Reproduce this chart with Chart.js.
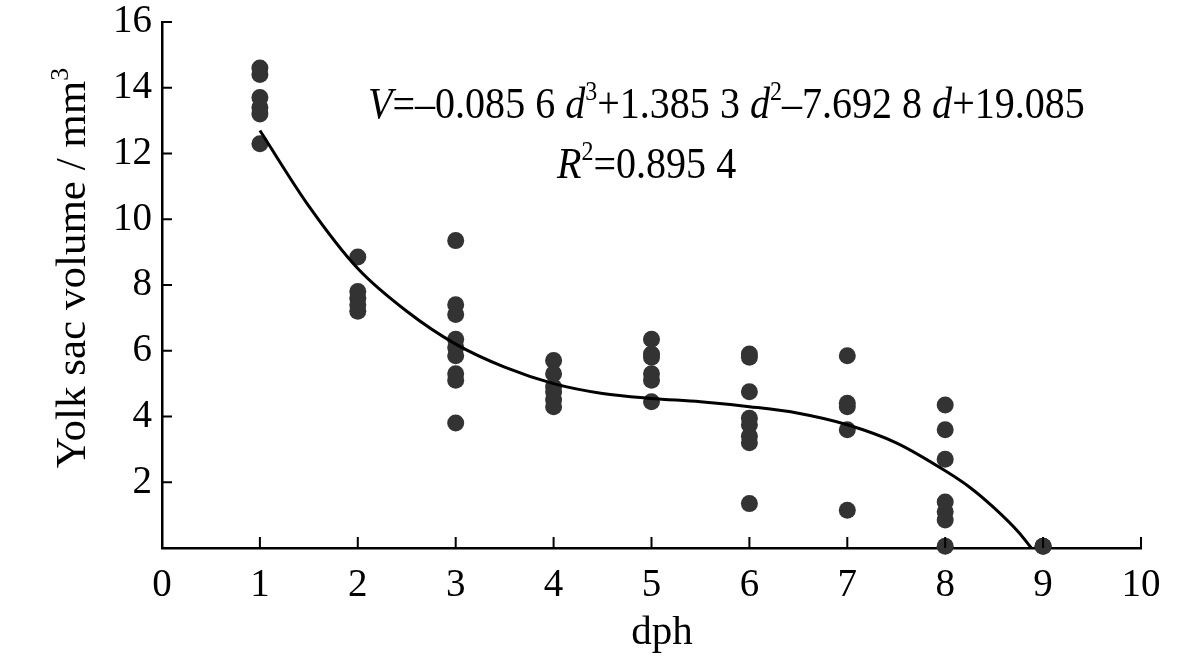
<!DOCTYPE html>
<html>
<head>
<meta charset="utf-8">
<title>Yolk sac volume</title>
<script src="https://cdn.jsdelivr.net/npm/chart.js@4.4.1/dist/chart.umd.min.js"></script>
<style>
  html, body { margin: 0; padding: 0; background: #fff; }
  #wrap { width: 1200px; height: 659px; }
</style>
</head>
<body>
<div id="wrap"><canvas id="yolk-chart" width="1200" height="659"></canvas></div>
<script>
const day1 = [14.6, 14.4, 13.7, 13.4, 13.2, 12.3];
const day2 = [8.85, 7.8, 7.6, 7.4, 7.2];
const day3 = [9.35, 7.4, 7.1, 6.35, 6.1, 5.85, 5.3, 5.1, 3.8];
const day4 = [5.7, 5.3, 4.9, 4.75, 4.5, 4.3];
const day5 = [6.35, 5.9, 5.8, 5.3, 5.1, 4.45];
const day6 = [5.9, 5.8, 4.75, 3.95, 3.75, 3.4, 3.2, 1.35];
const day7 = [5.85, 4.4, 4.3, 3.6, 1.15];
const day8 = [4.35, 3.6, 2.7, 1.4, 1.1, 0.85, 0.05];
const day9 = [0.05, 0.05];
const observations = [day1, day2, day3, day4, day5, day6, day7, day8, day9];

// fitted curve
const curveDays = [1, 1.5, 2, 2.5, 3, 3.5, 4, 4.5, 5, 5.5, 6, 6.5, 7, 7.5, 8, 8.25, 8.5, 8.75, 8.88];
const curveVolume = [12.7, 10.4, 8.5, 7.2, 6.2, 5.5, 5.0, 4.7, 4.55, 4.45, 4.3, 4.1, 3.75, 3.2, 2.35, 1.85, 1.22, 0.48, 0];

const xTicks = [0, 1, 2, 3, 4, 5, 6, 7, 8, 9, 10];
const yTicks = [2, 4, 6, 8, 10, 12, 14, 16];

const equationLine = [
  { t: "V", i: true }, { t: "=–0.085 6 " }, { t: "d", i: true }, { t: "3", s: true },
  { t: "+1.385 3 " }, { t: "d", i: true }, { t: "2", s: true },
  { t: "–7.692 8 " }, { t: "d", i: true }, { t: "+19.085" }
];
const r2Line = [{ t: "R", i: true }, { t: "2", s: true }, { t: "=0.895 4" }];
const yTitle = [{ t: "Yolk sac volume / mm" }, { t: "3", s: true }];

const FONT = "'Liberation Serif', 'Times New Roman', serif";

const points = [];
observations.forEach((vals, i) => {
  vals.forEach((v) => points.push({ x: i + 1, y: v }));
});
const curve = curveDays.map((d, i) => ({ x: d, y: curveVolume[i] }));

function fontOf(size, italic) {
  return (italic ? "italic " : "") + size + "px " + FONT;
}

function runsWidth(ctx, runs, size) {
  let w = 0;
  runs.forEach((r) => {
    ctx.font = fontOf(r.s ? size * 0.6 : size, r.i);
    w += ctx.measureText(r.t).width;
  });
  return w;
}

function drawRuns(ctx, runs, x, y, size) {
  let cx = x;
  runs.forEach((r) => {
    const sz = r.s ? size * 0.6 : size;
    ctx.font = fontOf(sz, r.i);
    ctx.fillText(r.t, cx, r.s ? y - size * 0.4 : y);
    cx += ctx.measureText(r.t).width;
  });
}

const decorations = {
  id: "decorations",
  afterDraw(chart) {
    const ctx = chart.ctx;
    const xs = chart.scales.x;
    const ys = chart.scales.y;
    const area = chart.chartArea;
    ctx.save();
    // inward tick marks
    ctx.strokeStyle = "#000";
    ctx.lineWidth = 2;
    ctx.beginPath();
    xTicks.forEach((t) => {
      if (t === 0) return;
      const px = xs.getPixelForValue(t);
      ctx.moveTo(px, area.bottom);
      ctx.lineTo(px, area.bottom - 11);
    });
    yTicks.forEach((t) => {
      const py = ys.getPixelForValue(t);
      ctx.moveTo(area.left, py);
      ctx.lineTo(area.left + 10, py);
    });
    ctx.stroke();

    // equation, slightly condensed like the original
    ctx.fillStyle = "#000";
    ctx.textBaseline = "alphabetic";
    ctx.textAlign = "left";
    ctx.save();
    ctx.scale(0.91, 1);
    drawRuns(ctx, equationLine, 368 / 0.91, 118, 44);
    drawRuns(ctx, r2Line, 557 / 0.91, 178, 44);
    ctx.restore();

    // axis titles
    ctx.font = fontOf(41, false);
    ctx.textAlign = "center";
    ctx.fillText("dph", 662, 644);

    ctx.textAlign = "left";
    ctx.translate(85, 268);
    ctx.rotate(-Math.PI / 2);
    const w = runsWidth(ctx, yTitle, 43);
    drawRuns(ctx, yTitle, -w / 2, 0, 43);
    ctx.restore();
  }
};

const ctx = document.getElementById("yolk-chart").getContext("2d");
new Chart(ctx, {
  type: "scatter",
  data: {
    datasets: [
      {
        label: "Fit",
        data: curve,
        showLine: true,
        borderColor: "#000",
        borderWidth: 3,
        pointRadius: 0,
        cubicInterpolationMode: "monotone",
        fill: false,
        order: 0,
        clip: false
      },
      {
        label: "Yolk sac volume",
        data: points,
        backgroundColor: "#333333",
        borderWidth: 0,
        pointRadius: 8.5,
        order: 1,
        clip: false
      }
    ]
  },
  options: {
    responsive: false,
    animation: false,
    devicePixelRatio: 1,
    layout: { padding: { top: 22, right: 59, left: 0, bottom: 0 } },
    plugins: {
      legend: { display: false },
      tooltip: { enabled: false }
    },
    scales: {
      x: {
        type: "linear",
        min: 0,
        max: 10,
        afterFit(scale) { scale.height = 111; },
        afterBuildTicks(scale) { scale.ticks = xTicks.map((v) => ({ value: v })); },
        ticks: {
          color: "#000",
          padding: 14,
          font: { family: FONT, size: 39 }
        },
        grid: { display: false, drawTicks: false },
        border: { display: true, color: "#000", width: 2.5 }
      },
      y: {
        type: "linear",
        min: 0,
        max: 16,
        afterFit(scale) { scale.width = 162; },
        afterBuildTicks(scale) { scale.ticks = yTicks.map((v) => ({ value: v })); },
        ticks: {
          color: "#000",
          padding: 10,
          font: { family: FONT, size: 39, lineHeight: 0.5 }
        },
        grid: { display: false, drawTicks: false },
        border: { display: true, color: "#000", width: 2.5 }
      }
    }
  },
  plugins: [decorations]
});
</script>
</body>
</html>
